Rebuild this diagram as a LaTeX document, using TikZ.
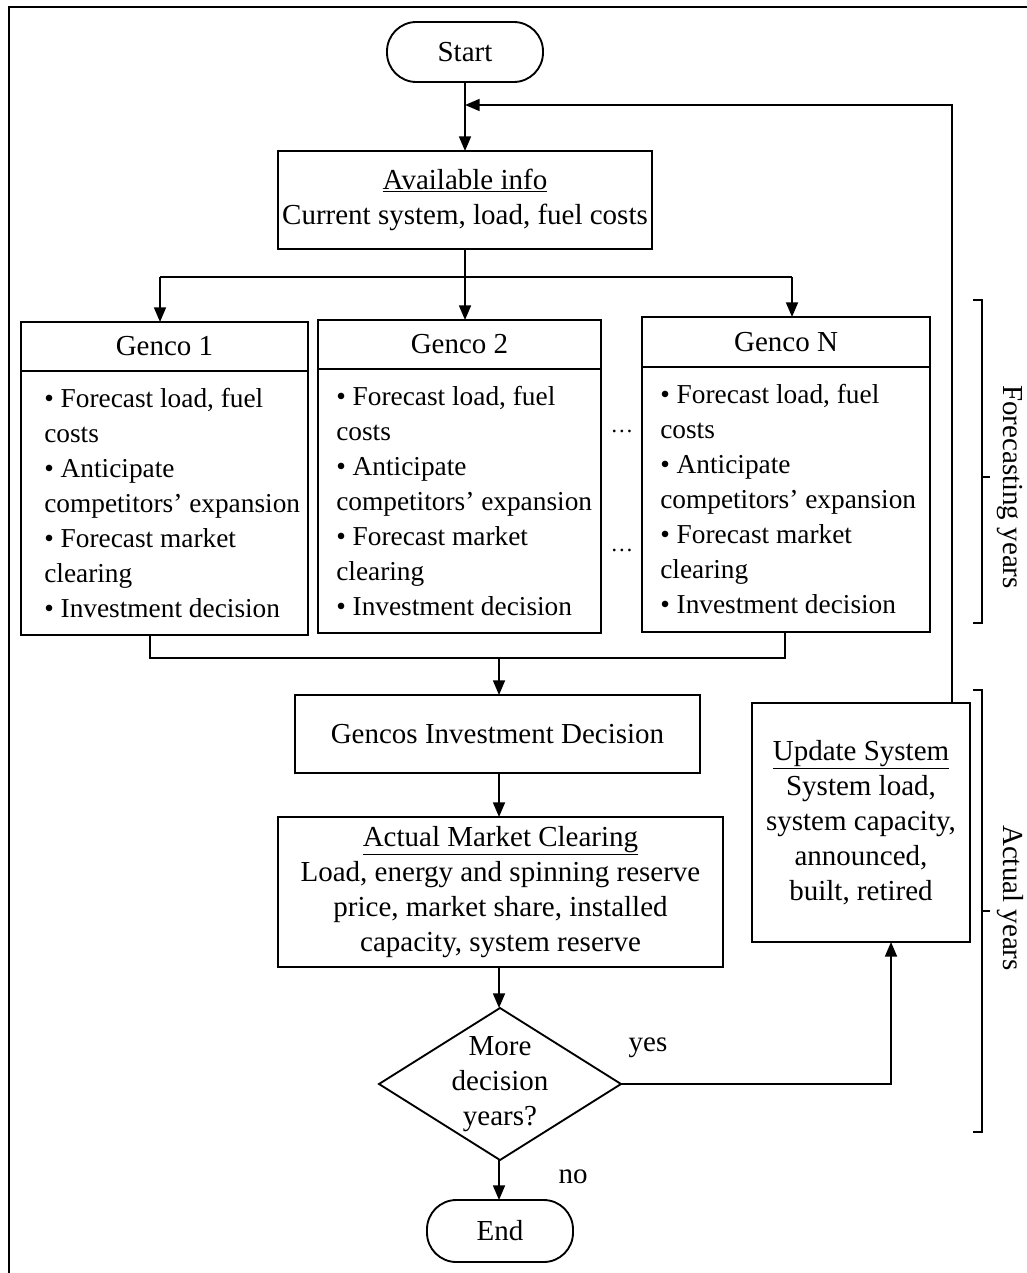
\documentclass[tikz,border=0pt]{standalone}
\usepackage{fontspec}
\setmainfont{Liberation Serif}
\usetikzlibrary{shapes.geometric,arrows.meta}
\newcommand\pxu{0.75pt}
\begin{document}
\begin{tikzpicture}[x=0.75pt,y=-0.75pt,
  font=\fontsize{21.75}{26.25}\selectfont,
  box/.style={draw,line width=1.4pt,inner sep=0pt,outer sep=0pt,align=center},
  term/.style={box,rounded corners=22pt},
  flow/.style={line width=1.3pt},
  arr/.style={flow,-{Triangle[length=11pt,width=9pt]}},
  txt/.style={inner sep=0pt,align=center},
  ltxt/.style={inner sep=0pt,align=left,anchor=west,font=\fontsize{20.5}{26.25}\selectfont},
  brace/.style={line width=1.6pt},
]
\useasboundingbox (0,0) rectangle (1026,1273);
% outer frame
\draw[line width=2pt] (9,1290) -- (9,7) -- (1040,7);

% terminals and process boxes
\node[term,minimum width=156*\pxu,minimum height=60*\pxu] (start) at (465,52) {Start};
\node[box,minimum width=374*\pxu,minimum height=98*\pxu] (info) at (465,200)
  {\underline{Available info}\\Current system, load, fuel costs};

% Genco 1
\node[box,minimum width=287*\pxu,minimum height=49*\pxu] (g1h) at (164.5,346.5) {Genco 1};
\node[box,minimum width=287*\pxu,minimum height=264*\pxu] (g1b) at (164.5,503) {};
\node[ltxt] (g1t) at (44,503) {• Forecast load, fuel\\costs\\• Anticipate\\competitors’ expansion\\• Forecast market\\clearing\\• Investment decision};
% Genco 2
\node[box,minimum width=283*\pxu,minimum height=49*\pxu] (g2h) at (459.5,344.5) {Genco 2};
\node[box,minimum width=283*\pxu,minimum height=264*\pxu] (g2b) at (459.5,501) {};
\node[ltxt] (g2t) at (336,501) {• Forecast load, fuel\\costs\\• Anticipate\\competitors’ expansion\\• Forecast market\\clearing\\• Investment decision};
% Genco N
\node[box,minimum width=288*\pxu,minimum height=50*\pxu] (gNh) at (786,342) {Genco N};
\node[box,minimum width=288*\pxu,minimum height=265*\pxu] (gNb) at (786,499.5) {};
\node[ltxt] (gNt) at (660,499.5) {• Forecast load, fuel\\costs\\• Anticipate\\competitors’ expansion\\• Forecast market\\clearing\\• Investment decision};
% ellipses between Genco 2 and Genco N
\node[txt,font=\fontsize{17}{17}\selectfont] (dots1) at (622,431) {…};
\node[txt,font=\fontsize{17}{17}\selectfont] (dots2) at (622,550) {…};

\node[box,minimum width=405*\pxu,minimum height=78*\pxu] (gid) at (497.5,734) {Gencos Investment Decision};
\node[box,minimum width=445*\pxu,minimum height=150*\pxu] (amc) at (500.5,892)
  {\underline{Actual Market Clearing}\\Load, energy and spinning reserve\\price, market share, installed\\capacity, system reserve};
\node[diamond,draw,line width=1.4pt,minimum width=242*\pxu,minimum height=152*\pxu,inner sep=0pt,outer sep=0pt] (dec) at (500,1084) {};
\node[txt] (dect) at (500,1084) {More\\decision\\years?};
\node[term,minimum width=146*\pxu,minimum height=62*\pxu] (end) at (500,1231) {End};
\node[box,minimum width=218*\pxu,minimum height=239*\pxu] (upd) at (861,822.5)
  {\underline{Update System}\\System load,\\system capacity,\\announced,\\built, retired};

\node[txt] (yes) at (648,1048) {yes};
\node[txt] (no) at (573,1177) {no};

% connectors
\coordinate (split) at (465,277);
\coordinate (s1) at (160,277);
\coordinate (sN) at (792,277);
\coordinate (m1) at (150,658);
\coordinate (mN) at (785,658);
\coordinate (join) at (499,658);
\coordinate (yc) at (891,1084);
\coordinate (fb) at (952,105);
\coordinate (fbend) at (465,105);

\draw[arr] (start) -- (info);
\draw[flow] (info.south) -- (split);
\draw[flow] (s1) -- (sN);
\draw[arr] (s1) -- (s1 |- g1h.north);
\draw[arr] (split) -- (split |- g2h.north);
\draw[arr] (sN) -- (sN |- gNh.north);
\draw[flow] (g1b.south -| m1) -- (m1) -- (mN) -- (gNb.south -| mN);
\draw[arr] (join) -- (join |- gid.north);
\draw[arr] (gid.south -| join) -- (amc.north -| join);
\draw[arr] (amc.south -| join) -- (dec.north -| join);
\draw[arr] (dec.south -| join) -- (end.north -| join);
\draw[arr] (dec.east) -- (yc) -- (yc |- upd.south);
\draw[arr] (upd.north -| fb) -- (fb) -- (fbend);

% year brackets
\draw[brace] (973,300) -- (982,300) -- (982,623) -- (973,623);
\draw[brace] (982,477) -- (990,477);
\draw[brace] (973,690) -- (982,690) -- (982,1132) -- (973,1132);
\draw[brace] (982,911) -- (990,911);
\node[txt,rotate=-90] (fy) at (1010,487) {Forecasting years};
\node[txt,rotate=-90] (ay) at (1010,898) {Actual years};
\end{tikzpicture}
\end{document}
